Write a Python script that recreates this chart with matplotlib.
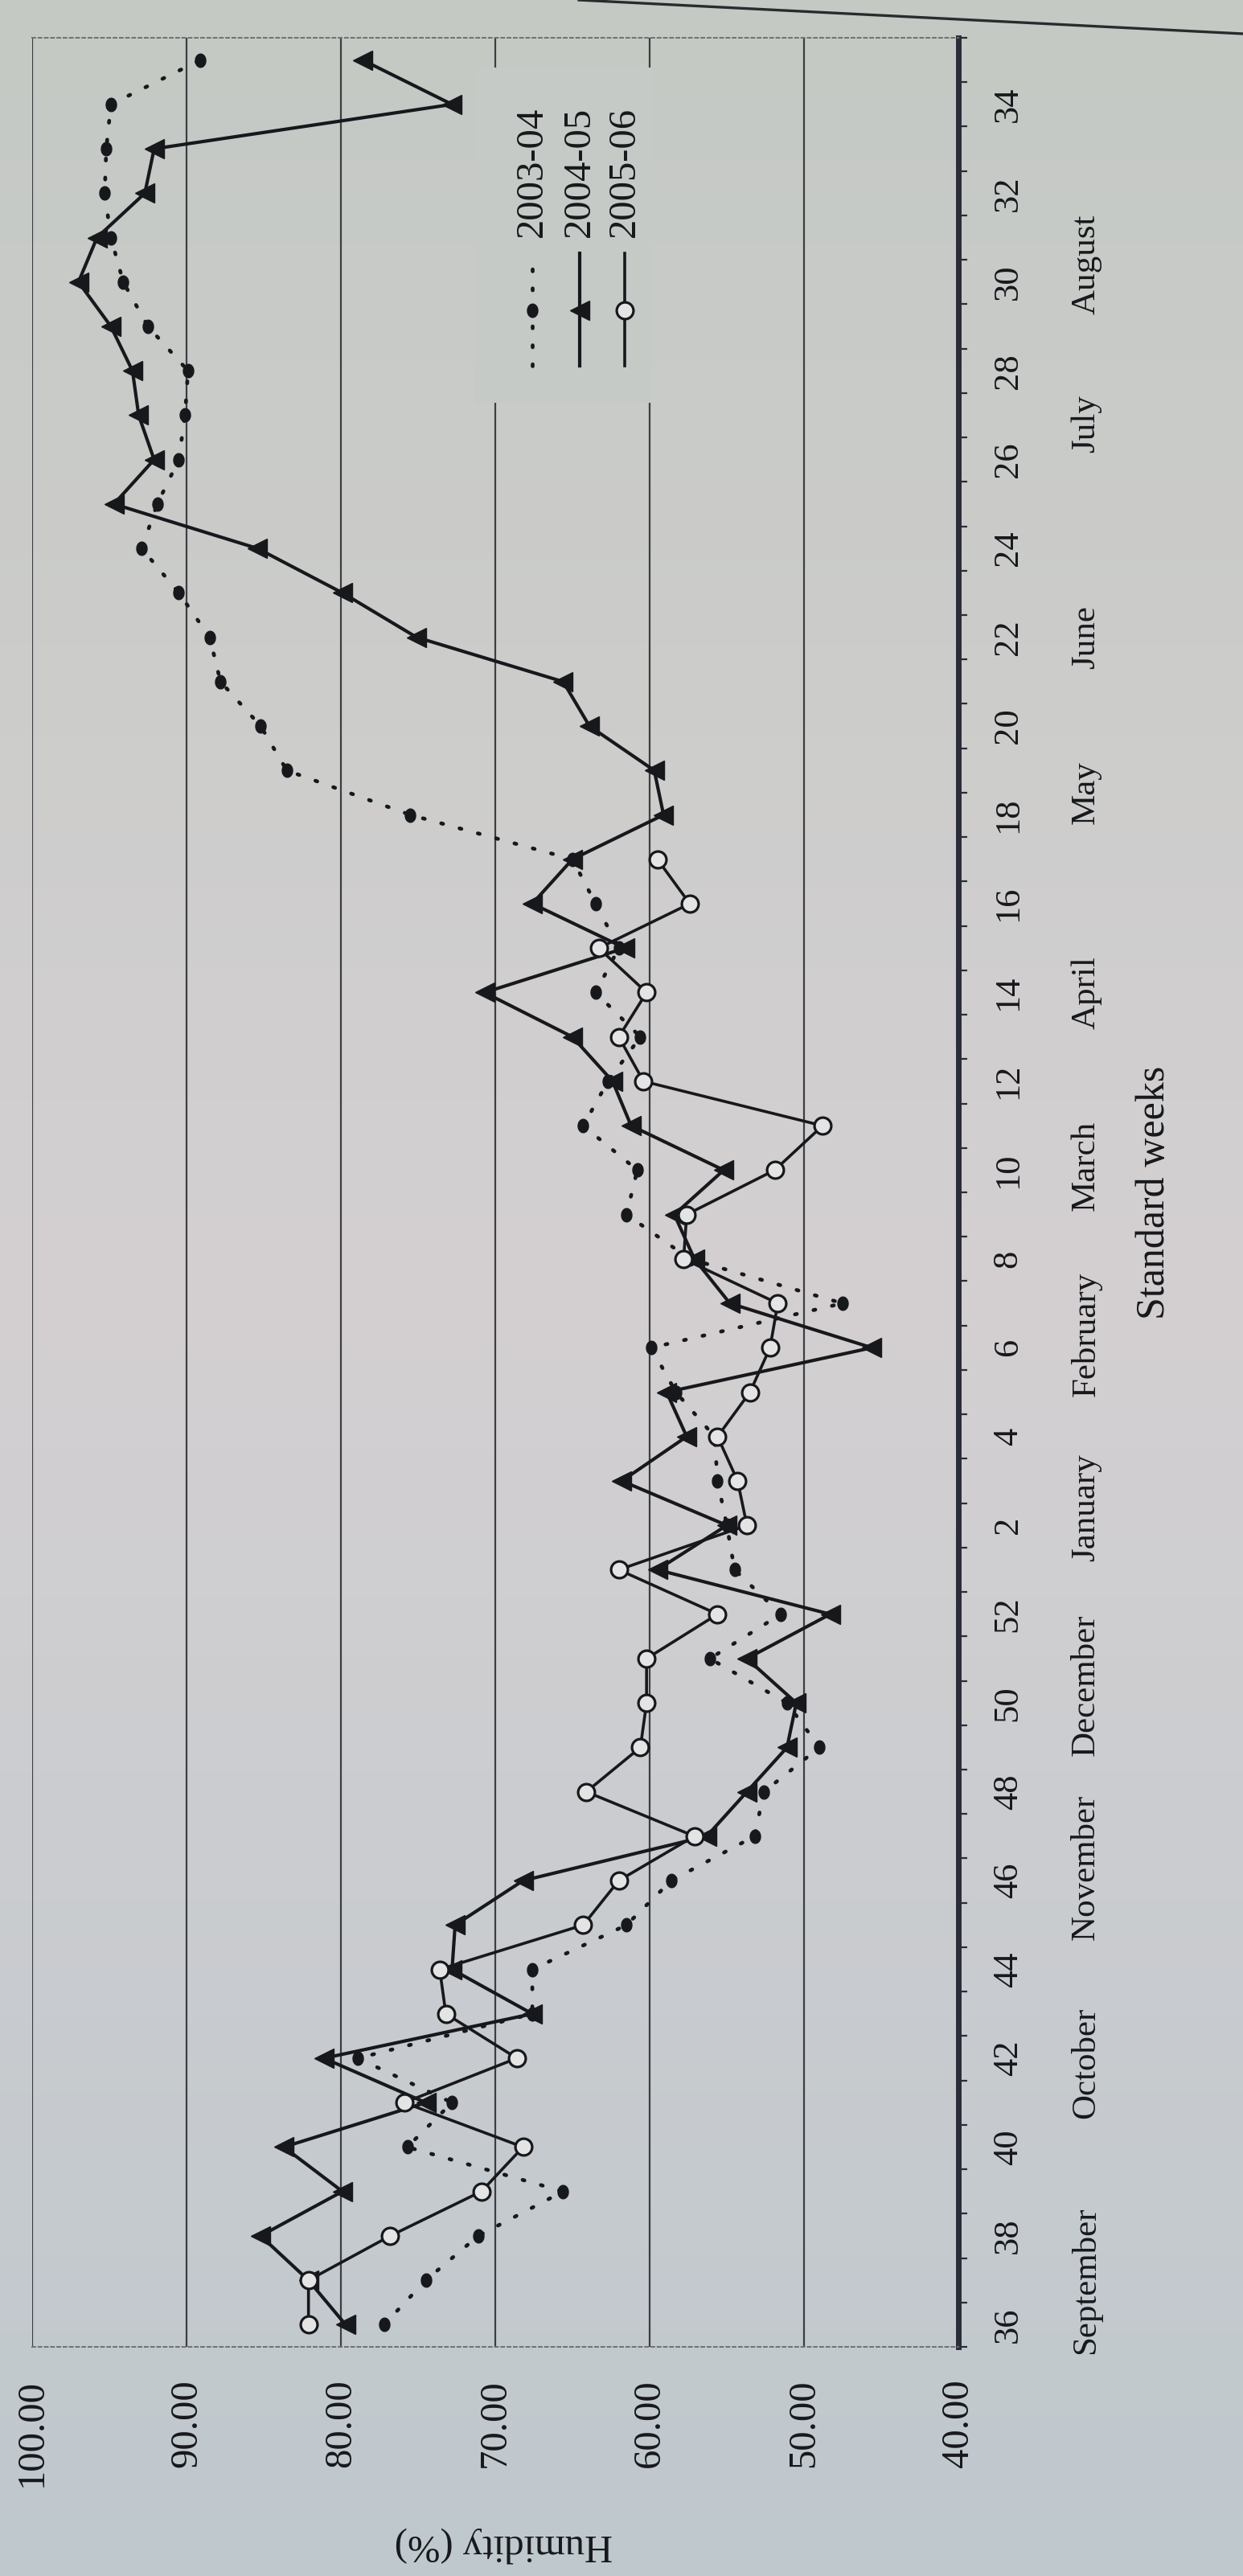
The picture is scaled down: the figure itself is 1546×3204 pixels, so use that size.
import numpy as np
import matplotlib
matplotlib.use("Agg")
import matplotlib.pyplot as plt
from matplotlib.path import Path
from matplotlib.lines import Line2D
from matplotlib.patches import Rectangle
from matplotlib.transforms import blended_transform_factory

plt.rcParams['font.family'] = ['Liberation Serif', 'DejaVu Serif']

# ---- data -------------------------------------------------------------
# Standard weeks of the crop year: week 36 of one year to week 35 of the next
weeks = list(range(36, 53)) + list(range(1, 36))

hum_2003_04 = [77.2, 74.5, 71.1, 65.6, 75.7, 72.8, 78.9, 67.6, 67.6, 61.5,
               58.6, 53.2, 52.6, 49.0, 51.1, 56.1, 51.5, 54.5, 55.0, 55.6,
               55.8, 58.3, 59.9, 47.5, 57.4, 61.5, 60.8, 64.3, 62.7, 60.6,
               63.5, 62.0, 63.5, 65.0, 75.5, 83.5, 85.2, 87.8, 88.5, 90.5,
               92.9, 91.9, 90.5, 90.1, 89.9, 92.5, 94.1, 94.9, 95.3, 95.2,
               94.9, 89.1]

hum_2004_05 = [79.7, 82.1, 85.2, 79.9, 83.7, 74.5, 81.1, 67.6, 72.8, 72.6,
               68.2, 56.3, 53.7, 51.1, 50.5, 53.7, 48.3, 59.5, 55.0, 61.8,
               57.6, 58.9, 45.6, 54.8, 57.1, 58.4, 55.2, 61.2, 62.4, 65.0,
               70.7, 61.6, 67.6, 65.0, 59.1, 59.7, 63.9, 65.6, 75.1, 79.9,
               85.4, 94.7, 92.1, 93.1, 93.5, 94.9, 97.0, 95.8, 92.7, 92.1,
               72.8, 78.6]

# 2005-06 observations run from week 36 to week 17
hum_2005_06 = [82.1, 82.1, 76.8, 70.9, 68.2, 75.9, 68.6, 73.2, 73.6, 64.3,
               62.0, 57.1, 64.1, 60.6, 60.2, 60.2, 55.6, 62.0, 53.7, 54.3,
               55.6, 53.5, 52.2, 51.7, 57.8, 57.6, 51.9, 48.8, 60.4, 62.0,
               60.2, 63.3, 57.4, 59.5]

seasons = ["2003-04", "2004-05", "2005-06"]
humidity_ticks = [40, 50, 60, 70, 80, 90, 100]
months = ["September", "October", "November", "December", "January",
          "February", "March", "April", "May", "June", "July", "August"]

# ---- layout -----------------------------------------------------------
month_centres = [1.0, 5.9, 10.3, 14.4, 18.4, 22.3, 26.1, 30.0, 34.5, 38.0,
                 42.8, 46.4]
INK = '#17181c'
W, H = 1546, 3204

fig = plt.figure(figsize=(W / 100, H / 100), dpi=100)

# paper tone behind everything
bg = fig.add_axes([0, 0, 1, 1], zorder=-10)
stops_y = np.array([0.0, 0.5, 1.0])
stops_c = np.array([[196, 201, 196], [212, 208, 210], [191, 200, 205]]) / 255
yy = np.linspace(0, 1, 400)
grad = np.stack([np.interp(yy, stops_y, stops_c[:, k]) for k in range(3)], axis=1)
bg.imshow(grad[:, None, :], aspect='auto', extent=[0, 1, 1, 0])
bg.set_xlim(0, 1)
bg.set_ylim(1, 0)
bg.axis('off')

# edge of the page across the top
fig.add_artist(Line2D([720 / W, 1.0], [1.0, 1 - 42 / H], transform=fig.transFigure,
                      color='#2b2b2e', lw=2.4))

ax = fig.add_axes([40 / W, (H - 2919) / H, 1152 / W, 2872 / H])
ax.patch.set_alpha(0)

cat = np.arange(len(weeks))
ax.set_xlim(100, 40)
ax.set_ylim(-0.5, len(weeks) - 0.5)

# value gridlines
for h in humidity_ticks[1:]:
    ax.axvline(h, color='#3c3e42', lw=1.6, zorder=1)

# spines
for side in ('left',):
    ax.spines[side].set_visible(False)
for side in ('top', 'bottom'):
    ax.spines[side].set_color('#6f7073')
    ax.spines[side].set_linewidth(1.4)
    ax.spines[side].set_linestyle((0, (2, 2)))
ax.spines['right'].set_color('#2a2c38')
ax.spines['right'].set_linewidth(5)

# humidity axis (drawn along the bottom)
ax.set_xticks(humidity_ticks)
ax.set_xticklabels([f"{v:.2f}" for v in humidity_ticks])
ax.tick_params(axis='x', length=0, pad=29, labelsize=35, labelcolor=INK)
for lab in ax.get_xticklabels():
    lab.set_rotation(90)
    lab.set_ha('center')
    lab.set_va('top')

# week axis (drawn along the right)
ax.yaxis.tick_right()
ax.set_yticks(cat[::2])
ax.set_yticklabels([str(w) for w in weeks[::2]])
ax.set_yticks(np.arange(-0.5, len(weeks), 1.0), minor=True)
ax.tick_params(axis='y', which='major', length=0, pad=30, labelsize=32,
               labelcolor=INK)
ax.tick_params(axis='y', which='minor', length=8, width=1.6, color='#2a2c38',
               direction='out')
for lab in ax.get_yticklabels():
    lab.set_rotation(90)
    lab.set_va('center')
    lab.set_ha('left')

trans_month = blended_transform_factory(ax.transAxes, ax.transData)
for name, pos in zip(months, month_centres):
    ax.text(1.138, pos, name, transform=trans_month, rotation=90,
            ha='center', va='center', fontsize=31, color=INK, clip_on=False)

ax.set_xlabel("Humidity (%)", fontsize=35, color=INK, rotation=180)
ax.xaxis.set_label_coords(0.509, -0.0857)
ax.xaxis.label.set_va('center')

ax.yaxis.set_label_position('right')
ax.set_ylabel("Standard weeks", fontsize=36, color=INK, rotation=90)
ax.yaxis.set_label_coords(1.212, 0.5)
ax.yaxis.label.set_rotation_mode('default')
ax.yaxis.label.set_va('center')
ax.yaxis.label.set_ha('center')

# marker shapes
t = np.linspace(0, 2 * np.pi, 41)
ellipse = Path(np.c_[0.78 * np.cos(t), np.sin(t)], closed=True)

style_0304 = dict(color=INK, lw=3.4, linestyle=(0, (0.5, 4.5)),
                  dash_capstyle='round', marker=ellipse, ms=12,
                  mfc=INK, mec=INK, zorder=4)
style_0405 = dict(color=INK, lw=3.0, linestyle='-', marker='<', ms=17,
                  mfc=INK, mec=INK, zorder=5)
style_0506 = dict(color=INK, lw=2.6, linestyle='-', marker='o', ms=15,
                  mfc='#e4e4e4', mec=INK, mew=2.3, zorder=6)

ax.plot(hum_2003_04, cat, **style_0304)
ax.plot(hum_2004_05, cat, **style_0405)
ax.plot(hum_2005_06, cat[:len(hum_2005_06)], **style_0506)

# legend, stacked across the plot and read bottom-to-top
box_col = np.interp(0.06, stops_y, stops_c[:, 0]), \
    np.interp(0.06, stops_y, stops_c[:, 1]), np.interp(0.06, stops_y, stops_c[:, 2])
ax.add_patch(Rectangle((0.478, 0.842), 0.19, 0.145, transform=ax.transAxes,
                       facecolor=box_col, edgecolor='none', zorder=2))
leg_x = [0.540, 0.591, 0.640]
for x, name, st in zip(leg_x, seasons, [style_0304, style_0405, style_0506]):
    line_kw = {k: v for k, v in st.items() if k not in ('marker', 'ms', 'mfc', 'mec', 'mew')}
    ax.plot([x, x], [0.858, 0.9067], transform=ax.transAxes, clip_on=False, **line_kw)
    mk = {k: v for k, v in st.items() if k in ('marker', 'ms', 'mfc', 'mec', 'mew')}
    ax.plot([x], [0.882], transform=ax.transAxes, linestyle='none', zorder=7,
            clip_on=False, **mk)
    ax.text(x, 0.9136, name, transform=ax.transAxes, rotation=90,
            ha='center', va='bottom', fontsize=35, color=INK)

fig.savefig("out.png", dpi=100)
